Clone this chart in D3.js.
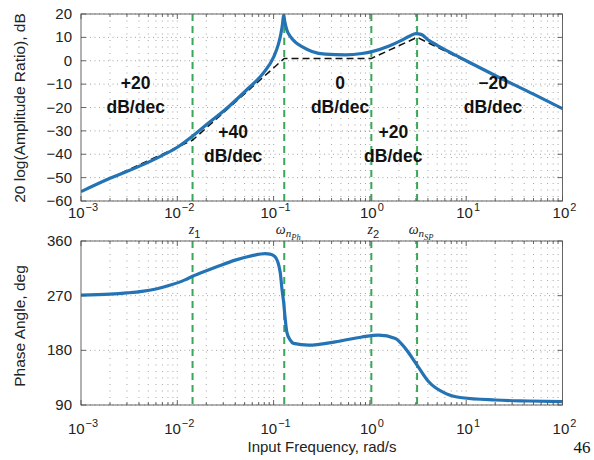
<!DOCTYPE html>
<html><head><meta charset="utf-8">
<script src="https://cdn.jsdelivr.net/npm/d3@7"></script>
<style>html,body{margin:0;padding:0;background:#fff;}svg{display:block;}</style>
</head><body>
<script>
// ---------- data ----------
const magFreq = [0.001,0.002,0.004,0.0066,0.01,0.0144,0.0203,0.0327,0.0527,0.0785,0.1,0.112,0.119,0.124,0.127,0.131,0.137,0.148,0.168,0.197,0.25,0.344,0.555,0.828,1.05,1.56,2.1,2.6,3.0,3.4,4.0,5.0,6.5,10,20,50,100];
const magDb   = [-56,-50.3,-45.2,-41.0,-37.0,-32.2,-27.2,-20.3,-12.4,-5.2,1.5,7.0,11.5,16.0,19.6,16.5,13.3,10.6,8.0,6.0,4.0,2.8,2.5,3.1,3.9,6.2,8.6,10.6,11.6,11.3,9.0,6.6,4.0,0.0,-6.3,-14.3,-20.5];
const asymFreq = [0.001,0.0144,0.129,1.035,3.09,100];
const asymDb   = [-56,-34,1,1,10,-20.4];
const phaseFreq = [0.001,0.002,0.003,0.0043,0.006,0.0085,0.012,0.0144,0.02,0.0257,0.0399,0.06,0.0818,0.092,0.104,0.117,0.122,0.127,0.132,0.137,0.149,0.161,0.231,0.437,0.828,1.23,1.84,2.33,3.09,4.08,6.08,9.06,20.1,44.7,100];
const phaseDeg  = [271,272.5,274.5,277,281,287.5,296,302,311,317.5,328.5,336,339.3,338.5,333.7,309,281.8,259.8,232,210.5,196.8,191.4,188.6,194,202,205,199.6,183.2,155.7,128.3,109.2,102,98.2,96.6,95.4];
const markerFreq = [0.0144,0.129,1.035,3.09];
const markerMain = ["z","ω","z","ω"];
const markerSub1 = ["1","n","2","n"];
const markerSub2 = ["","Ph","","SP"];
const decadeExp = [-3,-2,-1,0,1,2];
const magTicks = [20,10,0,-10,-20,-30,-40,-50,-60];
const phaseTicks = [90,180,270,360];
const slopeTop = ["+20","0","−20"];
const slopeTopFreq = [0.0037,0.49,19];
const slopeBot = ["+40","+20"];
const slopeBotFreq = [0.038,1.75];

// ---------- layout ----------
const W=594,H=460;
const svg=d3.select("body").append("svg").attr("width",W).attr("height",H);
svg.append("rect").attr("width",W).attr("height",H).attr("fill","#fff");
const X0=81,X1=562.5;
const x=d3.scaleLog().domain([1e-3,1e2]).range([X0,X1]);
const yM=d3.scaleLinear().domain([-60,20]).range([201,14]);
const yP=d3.scaleLinear().domain([90,360]).range([405,241]);

const minorF=[];
for(let e=-3;e<2;e++){for(let k=1;k<10;k++){minorF.push(k*Math.pow(10,e));}}
minorF.push(100);

const defs=svg.append("defs");
function panel(y,ticks,id){
  const [yb,yt]=y.range();
  defs.append("clipPath").attr("id",id).append("rect").attr("x",X0).attr("y",yt).attr("width",X1-X0).attr("height",yb-yt);
  const g=svg.append("g");
  g.selectAll(".vg").data(minorF.filter(f=>f>1e-3&&f<1e2)).join("line")
    .attr("x1",d=>x(d)).attr("x2",d=>x(d)).attr("y1",yt).attr("y2",yb)
    .attr("stroke","#9a9a9a").attr("stroke-width",0.9).attr("stroke-dasharray","1,5.5");
  g.selectAll(".hg").data(ticks).join("line")
    .attr("x1",X0).attr("x2",X1).attr("y1",d=>y(d)).attr("y2",d=>y(d))
    .attr("stroke","#9a9a9a").attr("stroke-width",0.9).attr("stroke-dasharray","1,3.5");
  g.selectAll(".mk").data(markerFreq).join("line")
    .attr("x1",d=>x(d)).attr("x2",d=>x(d)).attr("y1",yt).attr("y2",yb)
    .attr("stroke","#3aa65a").attr("stroke-width",2).attr("stroke-dasharray","7,5");
  return {g,yt,yb};
}
function frame(y,ticks){
  const [yb,yt]=y.range();
  const g=svg.append("g").attr("stroke","#555").attr("stroke-width",0.9);
  minorF.forEach(f=>{
    const major=decadeExp.some(e=>Math.abs(Math.pow(10,e)-f)<1e-9*f);
    const L=major?5:3;
    g.append("line").attr("x1",x(f)).attr("x2",x(f)).attr("y1",yb).attr("y2",yb-L);
    g.append("line").attr("x1",x(f)).attr("x2",x(f)).attr("y1",yt).attr("y2",yt+L);
  });
  ticks.forEach(t=>{
    g.append("line").attr("x1",X0).attr("x2",X0+5).attr("y1",y(t)).attr("y2",y(t));
    g.append("line").attr("x1",X1).attr("x2",X1-5).attr("y1",y(t)).attr("y2",y(t));
  });
  g.append("rect").attr("x",X0).attr("y",yt).attr("width",X1-X0).attr("height",yb-yt).attr("fill","none");
  svg.append("g").selectAll("text").data(ticks).join("text")
    .attr("x",72).attr("y",d=>y(d)+5).attr("text-anchor","end")
    .attr("font-family","Liberation Sans, Arial, sans-serif").attr("font-size",15).attr("fill","#222")
    .text(d=>d<0?"−"+Math.abs(d):String(d));
}
function xLabels(baseline){
  const g=svg.append("g").attr("font-family","Liberation Sans, Arial, sans-serif").attr("fill","#222");
  decadeExp.forEach(e=>{
    const t=g.append("text").attr("x",x(Math.pow(10,e))+2).attr("y",baseline).attr("text-anchor","middle").attr("font-size",15);
    t.append("tspan").text("10");
    t.append("tspan").attr("dy",-7).attr("font-size",11).attr("dx",1).text(e<0?"−"+Math.abs(e):String(e));
  });
}

// ---------- magnitude panel ----------
const pm=panel(yM,magTicks,"cm");
const lineM=d3.line().x(d=>x(d[0])).y(d=>yM(d[1])).curve(d3.curveMonotoneX);
pm.g.append("path").datum(asymFreq.map((f,i)=>[f,asymDb[i]])).attr("d",d3.line().x(d=>x(d[0])).y(d=>yM(d[1])))
  .attr("fill","none").attr("stroke","#111").attr("stroke-width",1.5).attr("stroke-dasharray","7,4").attr("clip-path","url(#cm)");
pm.g.append("path").datum(magFreq.map((f,i)=>[f,magDb[i]])).attr("d",lineM)
  .attr("fill","none").attr("stroke","#2474b5").attr("stroke-width",3.2).attr("stroke-linejoin","round").attr("clip-path","url(#cm)");
frame(yM,magTicks);
xLabels(218);

// ---------- phase panel ----------
const pp=panel(yP,phaseTicks,"cp");
pp.g.append("path").datum(phaseFreq.map((f,i)=>[f,phaseDeg[i]])).attr("d",d3.line().x(d=>x(d[0])).y(d=>yP(d[1])).curve(d3.curveMonotoneX))
  .attr("fill","none").attr("stroke","#2474b5").attr("stroke-width",3.2).attr("stroke-linejoin","round").attr("clip-path","url(#cp)");
frame(yP,phaseTicks);
xLabels(434);

// ---------- marker labels ----------
const ml=svg.append("g").attr("font-family","Liberation Serif, Times New Roman, serif").attr("fill","#222");
markerFreq.forEach((f,i)=>{
  const isW=markerMain[i]==="ω";
  const t=ml.append("text").attr("x",x(f)+(isW?4:2)).attr("y",234).attr("text-anchor","middle").attr("font-size",14);
  t.append("tspan").attr("font-style","italic").text(markerMain[i]);
  if(isW){
    t.append("tspan").attr("font-style","italic").attr("font-size",11).attr("dy",3).text(markerSub1[i]);
    t.append("tspan").attr("font-style","italic").attr("font-size",8.5).attr("dy",2.5).text(markerSub2[i]);
  } else {
    t.append("tspan").attr("font-size",11).attr("dy",4).attr("font-family","Liberation Sans, Arial, sans-serif").text(markerSub1[i]);
  }
});

// ---------- axis titles ----------
const tf="Liberation Sans, Arial, sans-serif";
svg.append("text").attr("transform","translate(25,108) rotate(-90)").attr("text-anchor","middle")
  .attr("font-family",tf).attr("font-size",15.5).attr("fill","#222").text("20 log(Amplitude Ratio), dB");
svg.append("text").attr("transform","translate(25,326) rotate(-90)").attr("text-anchor","middle")
  .attr("font-family",tf).attr("font-size",15.5).attr("fill","#222").text("Phase Angle, deg");
svg.append("text").attr("x",322).attr("y",452).attr("text-anchor","middle")
  .attr("font-family",tf).attr("font-size",15).attr("fill","#222").text("Input Frequency, rad/s");
svg.append("text").attr("x",582).attr("y",453).attr("text-anchor","middle")
  .attr("font-family","Liberation Serif, Times New Roman, serif").attr("font-size",17).attr("fill","#111").text("46");

// ---------- slope annotations ----------
const an=svg.append("g").attr("font-family",tf).attr("font-weight","bold").attr("font-size",17.5).attr("fill","#111").attr("text-anchor","middle");
slopeTop.forEach((s,i)=>{
  an.append("text").attr("x",x(slopeTopFreq[i])).attr("y",89).text(s);
  an.append("text").attr("x",x(slopeTopFreq[i])).attr("y",112.5).text("dB/dec");
});
slopeBot.forEach((s,i)=>{
  an.append("text").attr("x",x(slopeBotFreq[i])).attr("y",138).text(s);
  an.append("text").attr("x",x(slopeBotFreq[i])).attr("y",161.5).text("dB/dec");
});
</script>
</body></html>
